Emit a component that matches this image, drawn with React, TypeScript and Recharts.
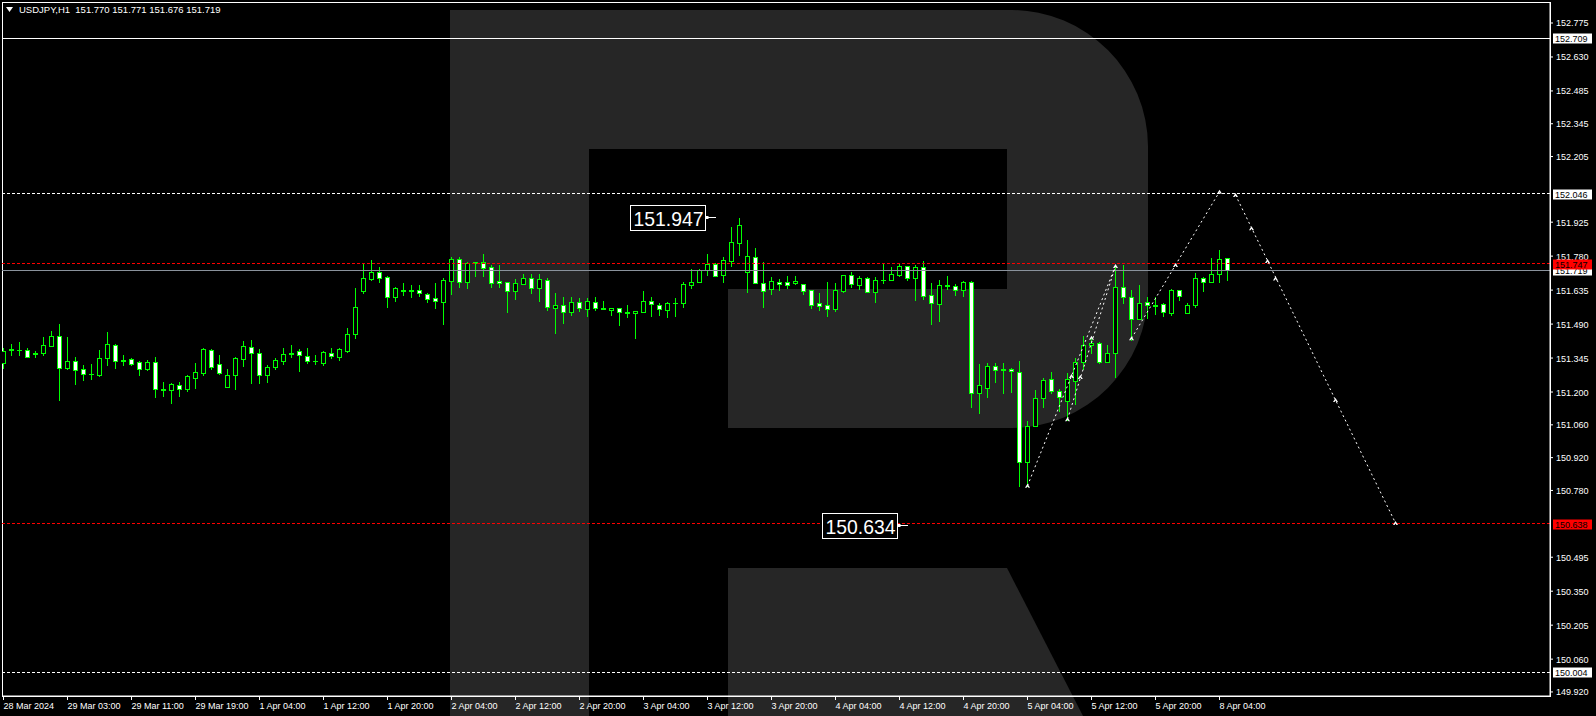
import React from "react";
import {
  ComposedChart,
  Bar,
  XAxis,
  YAxis,
  ReferenceLine,
  ReferenceArea,
  ReferenceDot,
} from "recharts";

// USDJPY H1 candles, bar 0 = 28 Mar 2024 19:00
const openPrices = [
  151.324, 151.380, 151.379, 151.379, 151.366, 151.366, 151.396, 151.439, 151.302, 151.332,
  151.298, 151.277, 151.273, 151.345, 151.400, 151.332, 151.340, 151.328, 151.298, 151.328,
  151.213, 151.209, 151.230, 151.213, 151.260, 151.281, 151.380, 151.320, 151.221, 151.273,
  151.340, 151.392, 151.366, 151.273, 151.307, 151.332, 151.362, 151.375, 151.354, 151.332,
  151.324, 151.366, 151.350, 151.375, 151.448, 151.631, 151.682, 151.712, 151.691, 151.606,
  151.635, 151.633, 151.635, 151.618, 151.601, 151.584, 151.674, 151.768, 151.670, 151.751,
  151.755, 151.733, 151.674, 151.670, 151.631, 151.661, 151.687, 151.644, 151.678, 151.559,
  151.571, 151.541, 151.584, 151.554, 151.584, 151.559, 151.550, 151.559, 151.541, 151.538,
  151.541, 151.588, 151.571, 151.550, 151.580, 151.580, 151.657, 151.670, 151.721, 151.746,
  151.699, 151.759, 151.836, 151.712, 151.776, 151.665, 151.640, 151.670, 151.670, 151.665,
  151.661, 151.635, 151.580, 151.571, 151.554, 151.631, 151.699, 151.657, 151.687, 151.627,
  151.678, 151.678, 151.699, 151.738, 151.687, 151.733, 151.614, 151.576, 151.657, 151.652,
  151.635, 151.670, 151.196, 151.217, 151.311, 151.294, 151.298, 151.285, 150.901, 151.055,
  151.174, 151.255, 151.204, 151.162, 151.247, 151.328, 151.401, 151.410, 151.328, 151.366,
  151.648, 151.606, 151.512, 151.584, 151.571, 151.576, 151.538, 151.635, 151.538, 151.571,
  151.687, 151.670, 151.704, 151.770,
];
const highPrices = [
  151.388, 151.405, 151.413, 151.390, 151.375, 151.435, 151.460, 151.490, 151.435, 151.350,
  151.315, 151.320, 151.379, 151.456, 151.405, 151.358, 151.345, 151.332, 151.337, 151.350,
  151.243, 151.238, 151.243, 151.273, 151.324, 151.388, 151.384, 151.358, 151.298, 151.350,
  151.418, 151.422, 151.384, 151.315, 151.345, 151.390, 151.400, 151.384, 151.388, 151.358,
  151.375, 151.390, 151.390, 151.473, 151.644, 151.746, 151.763, 151.733, 151.695, 151.648,
  151.665, 151.657, 151.657, 151.622, 151.665, 151.687, 151.776, 151.776, 151.755, 151.757,
  151.789, 151.742, 151.742, 151.670, 151.682, 151.704, 151.704, 151.704, 151.687, 151.622,
  151.606, 151.606, 151.601, 151.601, 151.606, 151.588, 151.559, 151.559, 151.571, 151.546,
  151.631, 151.606, 151.580, 151.584, 151.601, 151.670, 151.725, 151.725, 151.789, 151.751,
  151.776, 151.904, 151.943, 151.849, 151.815, 151.755, 151.691, 151.682, 151.695, 151.695,
  151.661, 151.635, 151.622, 151.670, 151.665, 151.699, 151.712, 151.695, 151.691, 151.691,
  151.746, 151.733, 151.751, 151.738, 151.742, 151.759, 151.665, 151.678, 151.695, 151.661,
  151.674, 151.674, 151.320, 151.324, 151.324, 151.324, 151.302, 151.332, 151.076, 151.209,
  151.260, 151.285, 151.213, 151.281, 151.345, 151.439, 151.435, 151.413, 151.401, 151.742,
  151.742, 151.635, 151.657, 151.606, 151.606, 151.580, 151.640, 151.635, 151.580, 151.708,
  151.691, 151.772, 151.806, 151.771,
];
const lowPrices = [
  151.303, 151.358, 151.358, 151.350, 151.350, 151.358, 151.396, 151.166, 151.300, 151.234,
  151.251, 151.255, 151.268, 151.315, 151.302, 151.315, 151.315, 151.273, 151.294, 151.179,
  151.183, 151.153, 151.183, 151.204, 151.217, 151.273, 151.298, 151.277, 151.221, 151.213,
  151.311, 151.238, 151.238, 151.243, 151.298, 151.320, 151.350, 151.290, 151.324, 151.320,
  151.315, 151.345, 151.337, 151.371, 151.430, 151.622, 151.678, 151.670, 151.563, 151.589,
  151.614, 151.606, 151.610, 151.585, 151.558, 151.490, 151.618, 151.648, 151.644, 151.695,
  151.695, 151.648, 151.648, 151.541, 151.597, 151.661, 151.622, 151.589, 151.550, 151.452,
  151.495, 151.529, 151.546, 151.524, 151.550, 151.554, 151.529, 151.486, 151.520, 151.430,
  151.541, 151.524, 151.529, 151.520, 151.524, 151.563, 151.644, 151.670, 151.699, 151.695,
  151.670, 151.738, 151.785, 151.627, 151.665, 151.563, 151.618, 151.635, 151.644, 151.661,
  151.618, 151.559, 151.550, 151.524, 151.546, 151.627, 151.648, 151.640, 151.627, 151.584,
  151.665, 151.678, 151.695, 151.678, 151.593, 151.597, 151.490, 151.503, 151.640, 151.614,
  151.610, 151.136, 151.110, 151.179, 151.243, 151.196, 151.200, 150.799, 150.799, 151.055,
  151.136, 151.196, 151.119, 151.081, 151.149, 151.298, 151.366, 151.324, 151.328, 151.264,
  151.580, 151.422, 151.512, 151.516, 151.533, 151.524, 151.529, 151.593, 151.538, 151.563,
  151.631, 151.670, 151.670, 151.676,
];
const closePrices = [
  151.375, 151.382, 151.380, 151.350, 151.362, 151.400, 151.439, 151.302, 151.332, 151.294,
  151.277, 151.278, 151.345, 151.405, 151.332, 151.336, 151.320, 151.298, 151.328, 151.213,
  151.209, 151.234, 151.213, 151.268, 151.285, 151.384, 151.307, 151.281, 151.273, 151.345,
  151.396, 151.366, 151.273, 151.307, 151.337, 151.362, 151.366, 151.358, 151.332, 151.334,
  151.370, 151.354, 151.384, 151.448, 151.563, 151.687, 151.712, 151.687, 151.606, 151.644,
  151.633, 151.635, 151.622, 151.597, 151.589, 151.678, 151.768, 151.670, 151.751, 151.755,
  151.729, 151.665, 151.665, 151.631, 151.665, 151.687, 151.644, 151.682, 151.563, 151.571,
  151.541, 151.584, 151.559, 151.588, 151.559, 151.554, 151.559, 151.541, 151.538, 151.546,
  151.588, 151.576, 151.554, 151.580, 151.582, 151.661, 151.670, 151.721, 151.746, 151.695,
  151.763, 151.840, 151.913, 151.780, 151.665, 151.631, 151.674, 151.661, 151.657, 151.674,
  151.631, 151.571, 151.567, 151.554, 151.635, 151.699, 151.661, 151.687, 151.627, 151.678,
  151.680, 151.704, 151.738, 151.687, 151.733, 151.610, 151.580, 151.657, 151.652, 151.635,
  151.670, 151.196, 151.230, 151.311, 151.294, 151.298, 151.290, 150.901, 151.055, 151.174,
  151.251, 151.204, 151.179, 151.255, 151.328, 151.401, 151.410, 151.328, 151.366, 151.648,
  151.606, 151.512, 151.580, 151.571, 151.569, 151.541, 151.635, 151.610, 151.571, 151.687,
  151.670, 151.704, 151.768, 151.719,
];

// time axis labels, one every 8 bars
const timeTickBars = [0, 8, 16, 24, 32, 40, 48, 56, 64, 72, 80, 88, 96, 104, 112, 120, 128, 136, 144, 152];
const timeLabels = [
  "28 Mar 2024", "29 Mar 03:00", "29 Mar 11:00", "29 Mar 19:00", "1 Apr 04:00",
  "1 Apr 12:00", "1 Apr 20:00", "2 Apr 04:00", "2 Apr 12:00", "2 Apr 20:00",
  "3 Apr 04:00", "3 Apr 12:00", "3 Apr 20:00", "4 Apr 04:00", "4 Apr 12:00",
  "4 Apr 20:00", "5 Apr 04:00", "5 Apr 12:00", "5 Apr 20:00", "8 Apr 04:00",
];

const priceTicks = [
  152.775, 152.63, 152.485, 152.345, 152.205, 151.925, 151.78, 151.635, 151.49,
  151.345, 151.2, 151.06, 150.92, 150.78, 150.495, 150.35, 150.205, 150.06, 149.92,
];

// horizontal levels
const solidLevel = 152.709;
const whiteDashLevels = [152.046, 150.004];
const redDashLevels = [151.747, 150.638];
const bidLevel = 151.719;

// forecast path (bar index, price)
const forecastFromBar = [128, 133, 141, 154];
const forecastFromPrice = [150.8, 151.084, 151.429, 152.041];
const forecastToBar = [139, 139, 152, 174];
const forecastToPrice = [151.738, 151.738, 152.055, 150.641];
const markerBars = [128, 133, 133.5, 134.6, 136, 139, 141, 146.5, 152, 154, 156, 158, 159, 166.5, 174];
const markerPrices = [
  150.8, 151.084, 151.268, 151.264, 151.432, 151.738, 151.429, 151.742, 152.055, 152.041,
  151.899, 151.759, 151.685, 151.166, 150.641,
];

// price tags drawn on the chart
const tagBars = [89, 113];
const tagPrices = [151.947, 150.634];

const X_DOMAIN: [number, number] = [-0.1875, 193.3125];
const Y_DOMAIN: [number, number] = [149.9027, 152.8646];
const FONT = "'Liberation Sans', Arial, sans-serif";
const LIME = "#00ff00";
const MARGIN = { top: 2, right: 0, left: 2, bottom: 0 };

const data = openPrices.map((o, i) => ({
  i,
  o,
  h: highPrices[i],
  l: lowPrices[i],
  c: closePrices[i],
  range: [lowPrices[i], highPrices[i]],
}));

const Candle = (props: any) => {
  const { x, y, width, height, payload } = props;
  const { o, h, l, c } = payload;
  const cx = Math.floor(x + width / 2) + 0.5;
  const hgt = Math.abs(height);
  const top = Math.min(y, y + height);
  const k = h - l > 0 ? hgt / (h - l) : 0;
  const yOf = (v: number) => top + (h - v) * k;
  const yo = yOf(o);
  const yc = yOf(c);
  const bTop = Math.round(Math.min(yo, yc)) + 0.5;
  const bBot = Math.round(Math.max(yo, yc)) + 0.5;
  const up = c >= o;
  return (
    <g shapeRendering="crispEdges">
      <line x1={cx} x2={cx} y1={Math.round(top)} y2={Math.round(top + hgt) + 1} stroke={LIME} />
      {bBot - bTop < 1 ? (
        <line x1={cx - 2.5} x2={cx + 2.5} y1={bTop} y2={bTop} stroke={LIME} />
      ) : (
        <rect
          x={cx - 2}
          y={bTop}
          width={4}
          height={bBot - bTop}
          fill={up ? "#000" : "#fff"}
          stroke={LIME}
        />
      )}
    </g>
  );
};

const XTick = (props: any) => {
  const { x, y, payload } = props;
  const idx = timeTickBars.indexOf(payload.value);
  return (
    <text x={x} y={y + 7} fill="#fff" fontSize={9} fontFamily={FONT} textAnchor="start">
      {timeLabels[idx]}
    </text>
  );
};

const YTick = (props: any) => {
  const { x, y, payload } = props;
  return (
    <text x={x + 1} y={y + 3.5} fill="#fff" fontSize={9} fontFamily={FONT} textAnchor="start">
      {payload.value.toFixed(3)}
    </text>
  );
};

const AxisBox = ({ viewBox, text, bg }: any) => {
  const right = viewBox.x + viewBox.width;
  const cy = Math.round(viewBox.y);
  return (
    <g>
      <rect x={right + 3} y={cy - 4.5} width={39} height={10} fill={bg} />
      <text x={right + 5} y={cy + 3.5} fontSize={9} fontFamily={FONT} fill="#000">
        {text}
      </text>
    </g>
  );
};

const ArrowMark = ({ cx, cy }: any) => (
  <path
    d={`M${cx - 2.5},${cy + 2} L${cx},${cy - 2} L${cx + 2.5},${cy + 2} L${cx + 1},${cy + 2} L${cx},${cy + 0.5} L${cx - 1},${cy + 2} Z`}
    fill="#fff"
  />
);

const PriceTag = ({ cx, cy, text }: any) => {
  const yc = Math.round(cy) + 0.5;
  return (
    <g>
      <rect x={cx - 85} y={yc - 12} width={75} height={25} fill="#000" stroke="#fff" shapeRendering="crispEdges" />
      <text
        x={cx - 82}
        y={yc + 8}
        fontSize={21}
        fontFamily={FONT}
        fill="#fff"
        textLength={70}
        lengthAdjust="spacingAndGlyphs"
      >
        {text}
      </text>
      <line x1={cx - 10} x2={cx} y1={yc} y2={yc} stroke="#fff" shapeRendering="crispEdges" />
      <rect x={cx - 10} y={yc - 1.5} width={3} height={3} fill="#fff" />
    </g>
  );
};

const Watermark = () => (
  <svg width={1596} height={716} style={{ position: "absolute", left: 0, top: 0 }}>
    <path
      d="M450,10 H1012 A137,137 0 0 1 1148,146 V292 A137,137 0 0 1 1012,428 H728 V289 H1007 V149 H589 V716 H450 Z"
      fill="#262626"
    />
    <path d="M728,568 H1007 L1083,716 H728 Z" fill="#262626" />
  </svg>
);

// shared axes; the overlay copy draws no ticks so the level boxes sit on top of the scale
const axes = (withTicks: boolean) => [
  <XAxis
    key="x"
    type="number"
    dataKey="i"
    domain={X_DOMAIN}
    allowDataOverflow
    ticks={timeTickBars}
    interval={0}
    height={20}
    tickSize={4}
    axisLine={withTicks ? { stroke: "#fff" } : false}
    tickLine={withTicks ? { stroke: "#fff" } : false}
    tick={withTicks ? <XTick /> : false}
  />,
  <YAxis
    key="y"
    orientation="right"
    type="number"
    domain={Y_DOMAIN}
    allowDataOverflow
    ticks={priceTicks}
    interval={0}
    width={46}
    tickSize={3}
    axisLine={withTicks ? { stroke: "#fff" } : false}
    tickLine={withTicks ? { stroke: "#fff" } : false}
    tick={withTicks ? <YTick /> : false}
  />,
];

export default function App() {
  return (
    <div
      style={{
        position: "relative",
        width: 1596,
        height: 716,
        background: "#000",
        overflow: "hidden",
        fontFamily: FONT,
      }}
    >
      <style>{"body{margin:0;background:#000}"}</style>
      <Watermark />
      <div style={{ position: "absolute", left: 0, top: 0 }}>
        <ComposedChart width={1596} height={716} data={data} margin={MARGIN}>
          {axes(true)}
          <ReferenceArea
            x1={X_DOMAIN[0]}
            x2={X_DOMAIN[1]}
            y1={Y_DOMAIN[0]}
            y2={Y_DOMAIN[1]}
            fill="none"
            stroke="#fff"
            ifOverflow="visible"
            shapeRendering="crispEdges"
          />
          <ReferenceLine y={solidLevel} stroke="#fff" shapeRendering="crispEdges" />
          {whiteDashLevels.map((v) => (
            <ReferenceLine
              key={"w" + v}
              y={v}
              stroke="#fff"
              strokeDasharray="3 2"
              shapeRendering="crispEdges"
            />
          ))}
          <ReferenceLine y={bidLevel} stroke="#8a929c" shapeRendering="crispEdges" />
          {redDashLevels.map((v) => (
            <ReferenceLine
              key={"r" + v}
              y={v}
              stroke="#ff0000"
              strokeDasharray="3 2"
              shapeRendering="crispEdges"
            />
          ))}
          <Bar dataKey="range" barSize={5} shape={<Candle />} isAnimationActive={false} />
          {forecastFromBar.map((b, k) => (
            <ReferenceLine
              key={"f" + k}
              segment={[
                { x: b, y: forecastFromPrice[k] },
                { x: forecastToBar[k], y: forecastToPrice[k] },
              ]}
              stroke="#fff"
              strokeDasharray="2 3"
              ifOverflow="visible"
            />
          ))}
          {markerBars.map((b, k) => (
            <ReferenceDot
              key={"m" + k}
              x={b}
              y={markerPrices[k]}
              r={2}
              ifOverflow="visible"
              shape={<ArrowMark />}
            />
          ))}
          {tagBars.map((b, k) => (
            <ReferenceDot
              key={"t" + k}
              x={b}
              y={tagPrices[k]}
              r={2}
              ifOverflow="visible"
              shape={<PriceTag text={tagPrices[k].toFixed(3)} />}
            />
          ))}
        </ComposedChart>
      </div>
      <div style={{ position: "absolute", left: 0, top: 0 }}>
        <ComposedChart width={1596} height={716} data={data} margin={MARGIN}>
          {axes(false)}
          <ReferenceLine
            y={solidLevel}
            stroke="none"
            label={<AxisBox text={solidLevel.toFixed(3)} bg="#fff" />}
          />
          {whiteDashLevels.map((v) => (
            <ReferenceLine
              key={"wb" + v}
              y={v}
              stroke="none"
              label={<AxisBox text={v.toFixed(3)} bg="#fff" />}
            />
          ))}
          <ReferenceLine
            y={bidLevel}
            stroke="none"
            label={<AxisBox text={bidLevel.toFixed(3)} bg="#fff" />}
          />
          {redDashLevels.map((v) => (
            <ReferenceLine
              key={"rb" + v}
              y={v}
              stroke="none"
              label={<AxisBox text={v.toFixed(3)} bg="#ff0000" />}
            />
          ))}
        </ComposedChart>
      </div>
      <div
        style={{
          position: "absolute",
          left: 6,
          top: 4,
          color: "#fff",
          fontSize: 9.5,
          lineHeight: "12px",
          whiteSpace: "pre",
          display: "flex",
          alignItems: "center",
        }}
      >
        <svg width={8} height={6} style={{ marginRight: 5 }}>
          <path d="M0,0 L7,0 L3.5,5 Z" fill="#fff" />
        </svg>
        {"USDJPY,H1  151.770 151.771 151.676 151.719"}
      </div>
    </div>
  );
}
